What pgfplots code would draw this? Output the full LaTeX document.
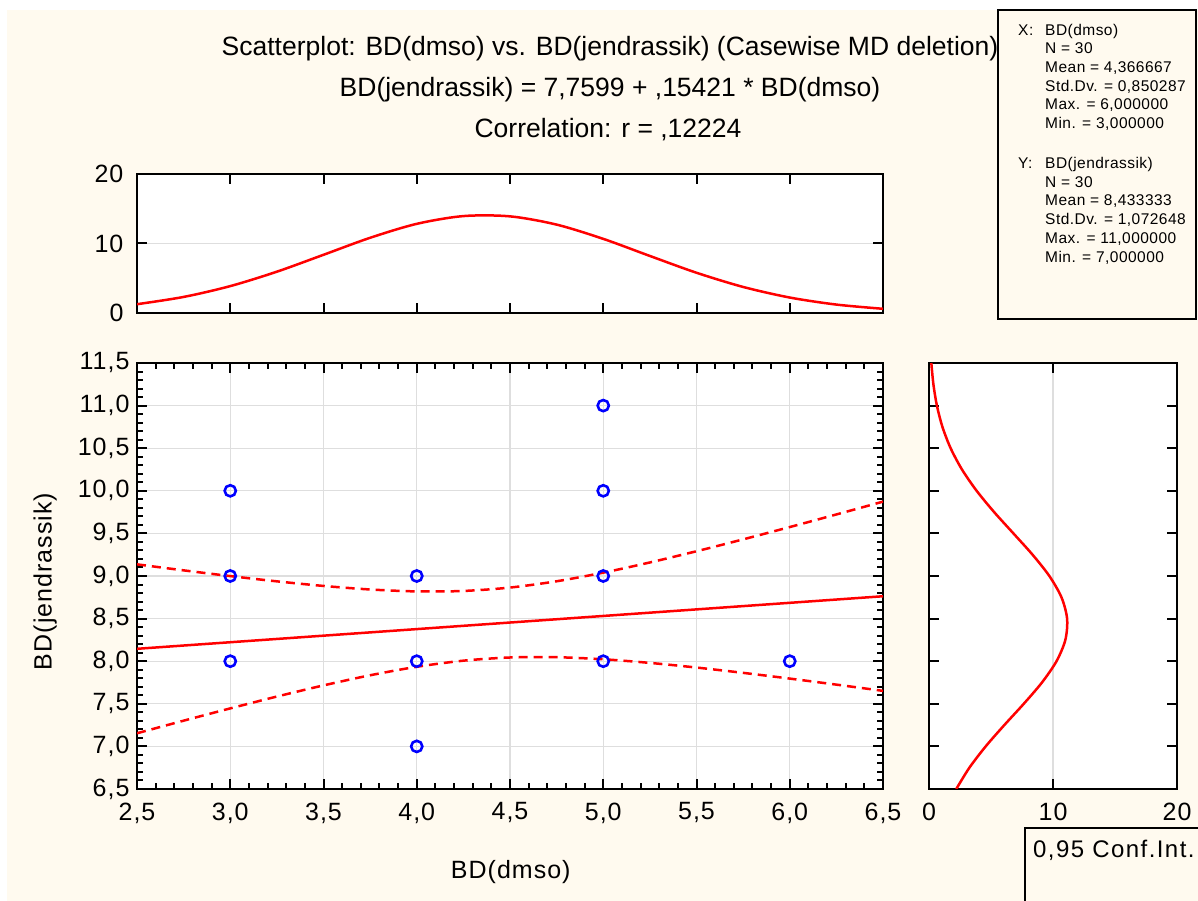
\documentclass[border=0pt]{standalone}
\usepackage{fontspec}
\setmainfont{Liberation Sans}
\newfontfamily\tickfont[LetterSpace=4]{Liberation Sans}
\newfontfamily\legfont[LetterSpace=3]{Liberation Sans}
\newfontfamily\cifont[LetterSpace=6]{Liberation Sans}
\usepackage{pgfplots}
\pgfplotsset{compat=1.18}
\definecolor{cream}{HTML}{FFFAEF}
\definecolor{gridgray}{HTML}{DEDEDE}

\pgfplotstableread{
x y
3 10
3 9
3 8
4 9
4 8
4 7
5 11
5 10
5 9
5 8
6 8
}\pointsdata

\pgfplotstableread{
x u l
2.50 9.1368 7.1541
2.75 9.0661 7.3018
3.00 8.9990 7.4460
3.25 8.9372 7.5850
3.50 8.8833 7.7160
3.75 8.8417 7.8347
4.00 8.8192 7.9343
4.25 8.8244 8.0062
4.50 8.8642 8.0435
4.75 8.9382 8.0466
5.00 9.0393 8.0226
5.25 9.1590 7.9800
5.50 9.2906 7.9255
5.75 9.4300 7.8632
6.00 9.5745 7.7959
6.25 9.7224 7.7250
6.50 9.8728 7.6517
}\bandsdata

\pgfplotstableread{
x d
2.50 1.2647
2.75 2.3093
3.00 3.8681
3.25 5.9426
3.50 8.3733
3.75 10.8207
4.00 12.8262
4.25 13.9441
4.50 13.9040
4.75 12.7158
5.00 10.6661
5.25 8.2062
5.50 5.7904
5.75 3.7475
6.00 2.2244
6.25 1.2112
6.50 0.6047
}\xdens

\pgfplotstableread{
y d
6.50 2.1989
6.75 3.2567
7.00 4.5695
7.25 6.0716
7.50 7.6417
7.75 9.1087
8.00 10.2837
8.25 10.9962
8.50 11.1365
8.75 10.6822
9.00 9.7048
9.25 8.3503
9.50 6.8056
9.75 5.2531
10.00 3.8403
10.25 2.6590
10.50 1.7440
10.75 1.0831
11.00 0.6371
11.25 0.3549
11.50 0.1873
}\ydens

\pgfplotsset{
  statstyle/.style={
    scale only axis,
    anchor=south west,
    line width=2.5bp,
    axis background/.style={fill=white},
    tick align=inside,
    major tick length=10bp,
    minor tick length=6bp,
    every tick/.style={black, line width=2bp},
    major grid style={line width=1.2bp, gridgray},
    ticklabel style={font=\tickfont\fontsize{25bp}{30bp}\selectfont, text=black},
    /pgf/number format/assume math mode=true,
  }
}

\begin{document}
\begin{tikzpicture}
\useasboundingbox (0,0) rectangle (1198bp,901bp);
\fill[white] (0,0) rectangle (1198bp,901bp);
\fill[cream] (7bp,0) rectangle (1198bp,891bp);

\node[anchor=base, font=\fontsize{26.5bp}{30bp}\selectfont] at (610bp,845bp) {Scatterplot: BD(dmso) vs. BD(jendrassik) (Casewise MD deletion)};
\node[anchor=base, font=\fontsize{26.5bp}{30bp}\selectfont] at (610bp,804bp) {BD(jendrassik) = 7,7599 + ,15421 * BD(dmso)};
\node[anchor=base, font=\fontsize{26.5bp}{30bp}\selectfont] at (608bp,763bp) {Correlation: r = ,12224};

% main scatter
\begin{axis}[statstyle,
  at={(137bp,112bp)}, width=746bp, height=426bp,
  xmin=2.5, xmax=6.5, ymin=6.5, ymax=11.5,
  xtick={2.5,3,3.5,4,4.5,5,5.5,6,6.5},
  ytick={6.5,7,7.5,8,8.5,9,9.5,10,10.5,11,11.5},
  minor x tick num=4, minor y tick num=4,
  grid=major,
  xticklabel style={yshift=-9bp},
  yticklabel style={xshift=-3bp},
  /pgf/number format/use comma, /pgf/number format/fixed,
  /pgf/number format/fixed zerofill, /pgf/number format/precision=1,
  xlabel={BD(dmso)}, ylabel={BD(jendrassik)},
  every axis x label/.style={at={(axis description cs:0.501,-0.211)}, anchor=base, font=\tickfont\fontsize{25bp}{30bp}\selectfont},
  every axis y label/.style={at={(axis description cs:-0.123,0.487)}, anchor=center, rotate=90, font=\tickfont\fontsize{25bp}{30bp}\selectfont},
  clip=true,
]
\addplot[red, line width=2.5bp, dash pattern=on 9bp off 6bp, smooth] table[x=x, y=u] {\bandsdata};
\addplot[red, line width=2.5bp, dash pattern=on 9bp off 6bp, smooth] table[x=x, y=l] {\bandsdata};
\addplot[red, line width=2.5bp] coordinates {(2.5,8.14543) (6.5,8.76227)};
\addplot[only marks, mark=o, mark size=5.6bp, blue, mark options={line width=2.6bp, draw=blue}] table[x=x, y=y] {\pointsdata};
\end{axis}

% top marginal
\begin{axis}[statstyle,
  at={(137bp,588bp)}, width=746bp, height=139bp,
  xmin=2.5, xmax=6.5, ymin=0, ymax=20,
  xtick={2.5,3,3.5,4,4.5,5,5.5,6,6.5}, xticklabels={},
  ytick={0,10,20}, ymajorgrids,
  yticklabel style={xshift=-9bp},
]
\addplot[red, line width=2.5bp, smooth] table[x=x, y=d] {\xdens};
\end{axis}

% right marginal
\begin{axis}[statstyle,
  at={(929bp,112bp)}, width=248bp, height=426bp,
  xmin=0, xmax=20, ymin=6.5, ymax=11.5,
  xtick={0,10,20}, xmajorgrids,
  ytick={6.5,7,7.5,8,8.5,9,9.5,10,10.5,11,11.5}, yticklabels={},
  xticklabel style={yshift=-9bp},
]
\addplot[red, line width=2.5bp, smooth] table[x=d, y=y] {\ydens};
\end{axis}

\begin{scope}
\clip (0,0) rectangle (1198bp,901bp);
\draw[line width=1.2bp, fill=cream] (998bp,582bp) rectangle (1196bp,891bp);
\draw[line width=2.5bp, fill=cream] (1025bp,-10bp) rectangle (1215bp,73bp);
\end{scope}

\begin{scope}[every node/.style={anchor=base west, inner sep=0pt, font=\legfont\fontsize{15.5bp}{18bp}\selectfont}]
\node at (1018bp,865bp) {X:};
\node at (1045bp,865bp) {BD(dmso)};
\node at (1045bp,847bp) {N = 30};
\node at (1045bp,828bp) {Mean = 4,366667};
\node at (1045bp,809bp) {Std.Dv. = 0,850287};
\node at (1045bp,791bp) {Max. = 6,000000};
\node at (1045bp,772bp) {Min. = 3,000000};
\node at (1018bp,732bp) {Y:};
\node at (1045bp,732bp) {BD(jendrassik)};
\node at (1045bp,713bp) {N = 30};
\node at (1045bp,695bp) {Mean = 8,433333};
\node at (1045bp,676bp) {Std.Dv. = 1,072648};
\node at (1045bp,657bp) {Max. = 11,000000};
\node at (1045bp,638bp) {Min. = 7,000000};
\end{scope}

\begin{scope}
\clip (0,0) rectangle (1198bp,901bp);
\node[anchor=base west, inner sep=0pt, font=\cifont\fontsize{24bp}{28bp}\selectfont] at (1033bp,43bp) {0,95 Conf.Int.};
\end{scope}
\end{tikzpicture}
\end{document}
